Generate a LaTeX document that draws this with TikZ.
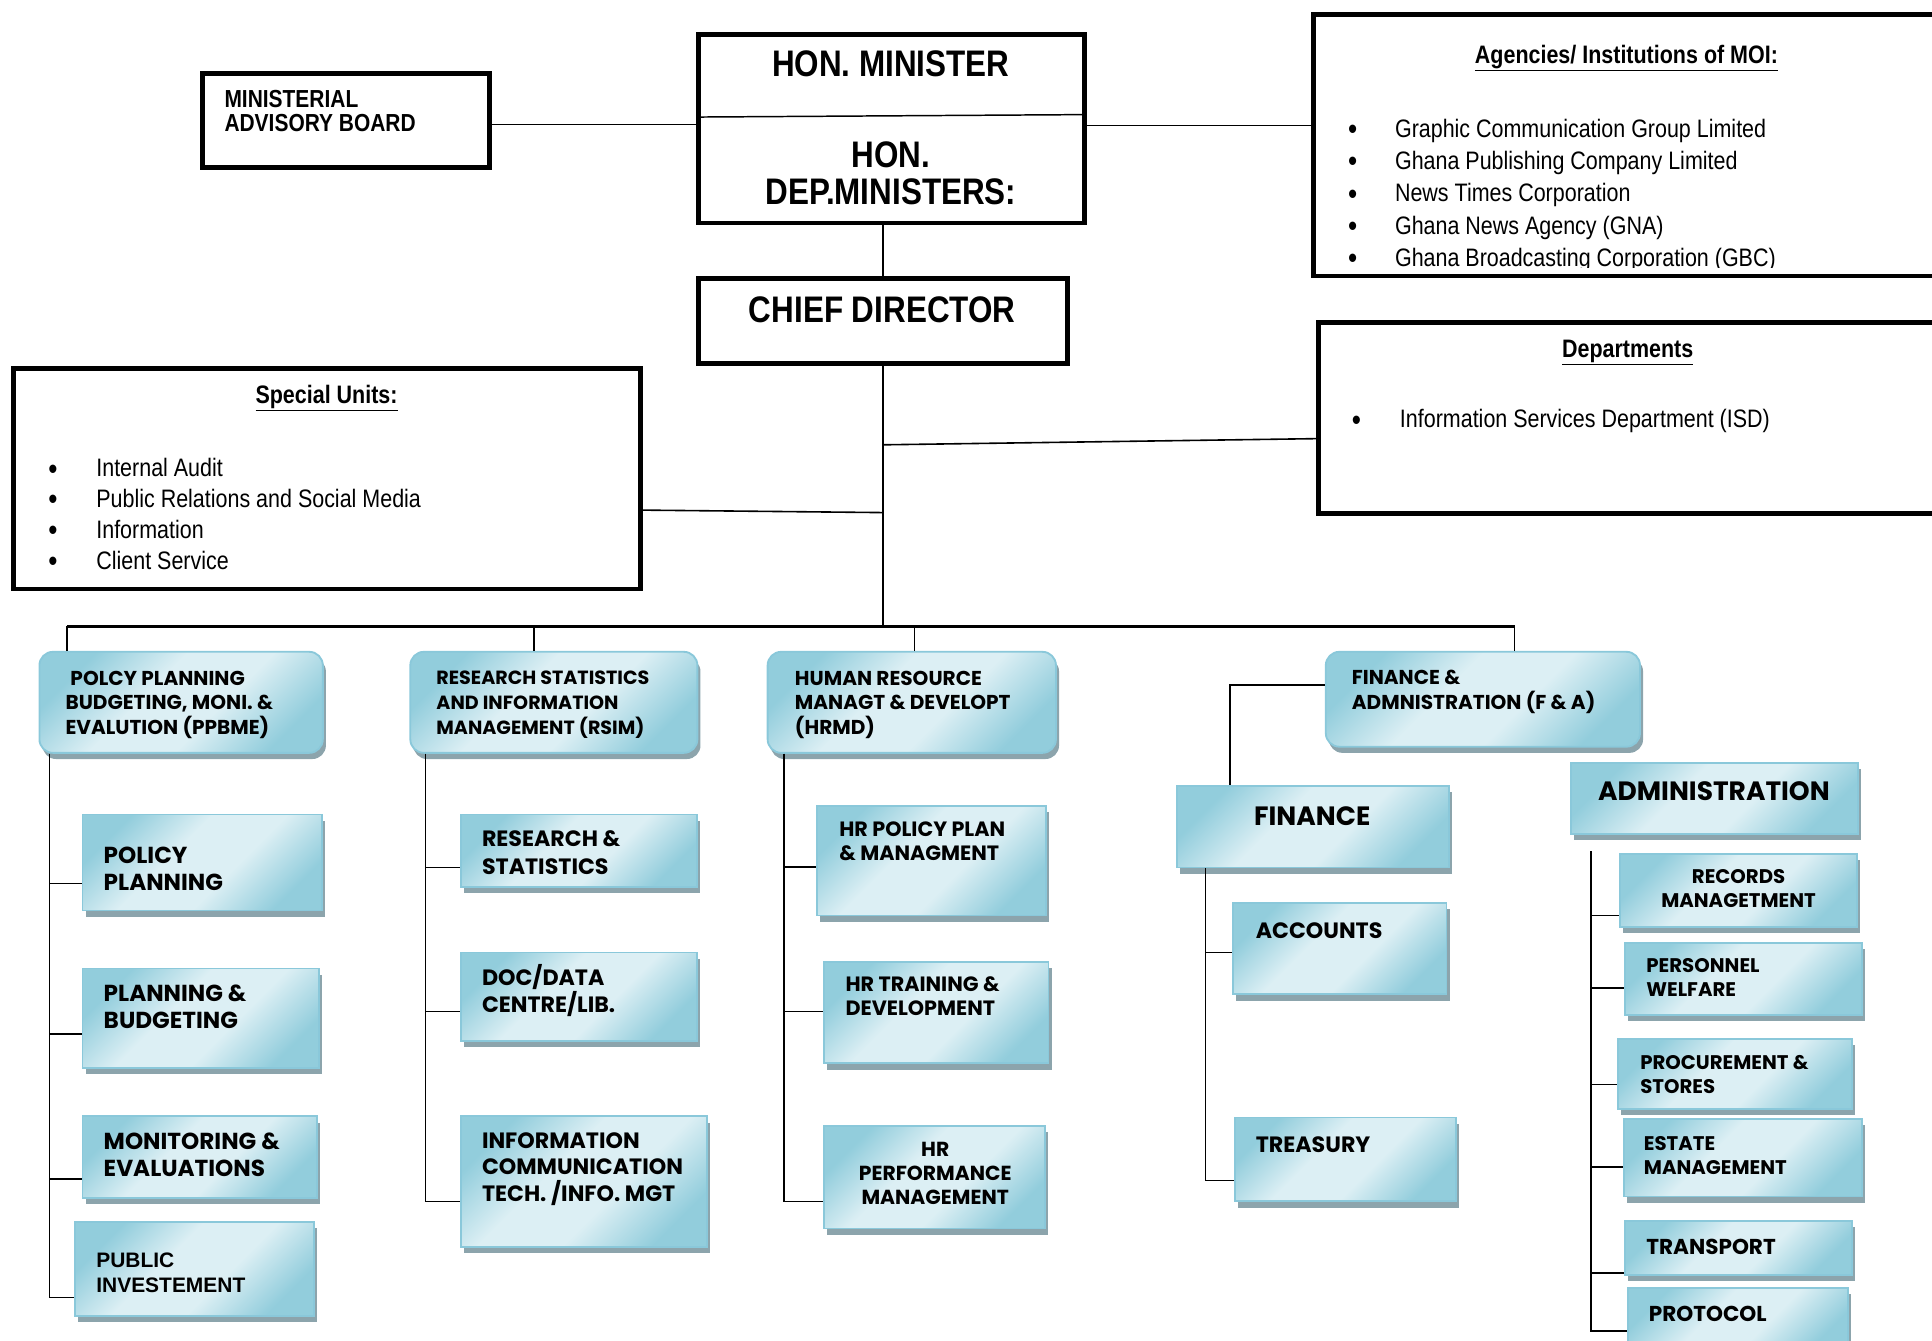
\documentclass[tikz,border=0pt]{standalone}
\usepackage{fontspec}
\setmainfont{Liberation Sans}
\newfontfamily\narrowfont{Liberation Sans}[FakeStretch=0.85]
\newfontfamily\unitfont{Poppins}
\usetikzlibrary{fit, positioning, shadings, shadows}

\definecolor{boxdark}{RGB}{146,205,220}
\definecolor{boxlight}{RGB}{220,239,244}
\definecolor{boxedge}{RGB}{138,200,218}
\definecolor{shadowgray}{RGB}{140,164,172}
\pgfdeclareverticalshading{unitshade}{100bp}{color(0bp)=(boxdark); color(25bp)=(boxdark); color(42bp)=(boxlight); color(58bp)=(boxlight); color(75bp)=(boxdark); color(100bp)=(boxdark)}
\newcommand{\itemdot}[1]{\makebox[#1][l]{\smash{\raisebox{-2pt}{\fontsize{25}{25}\selectfont\textbullet}}}}

\tikzstyle{boss}=[draw, line width=4, inner sep=0]
\tikzstyle{unit}=[draw=boxedge, line width=1.5, inner sep=0, shading=unitshade, shading angle=45, drop shadow={shadow xshift=2.5, shadow yshift=5, fill=shadowgray, opacity=1}]
\tikzstyle{head}=[unit, rounded corners=11]
\tikzstyle{link}=[line width=1.3]
\tikzstyle{bus}=[line width=2.6]
\tikzstyle{bosstext}=[inner sep=0, align=center, font=\narrowfont\bfseries\fontsize{30}{30}\selectfont]
\tikzstyle{listtitle}=[inner sep=0, font=\narrowfont\bfseries\fontsize{20.5}{25}\selectfont]
\tikzstyle{listtext}=[inner sep=0, anchor=west, align=left, font=\narrowfont\fontsize{20.5}{25}\selectfont]
\tikzstyle{headtext}=[inner sep=0, anchor=west, align=left, font=\unitfont\bfseries\fontsize{16.3}{20}\selectfont]
\tikzstyle{kidtext}=[headtext, font=\unitfont\bfseries\fontsize{18.8}{22}\selectfont]
\tikzstyle{hrtext}=[headtext, font=\unitfont\bfseries\fontsize{16.8}{19.5}\selectfont]
\tikzstyle{admintext}=[headtext, font=\unitfont\bfseries\fontsize{16}{19.5}\selectfont]
\tikzstyle{bigtext}=[inner sep=0, font=\unitfont\bfseries\fontsize{21.5}{24}\selectfont]

\begin{document}
\begin{tikzpicture}[x=1pt, y=-1pt]
  \useasboundingbox (0,0) rectangle (1568,1088);
  \clip (0,0) rectangle (1568,1088);

  % minister, board and chief director
  \node[boss, fit={(164,60) (397,136)}] (advisory) {};
  \node[bosstext, anchor=west, align=left, font=\narrowfont\bfseries\fontsize{20}{20}\selectfont] (advisorytext) at (182,90) {MINISTERIAL\\ADVISORY BOARD};
  \node[boss, fit={(567,28) (880,181)}] (minister) {};
  \node[bosstext] (ministertext) at (723,52) {HON. MINISTER};
  \node[bosstext] (deputytext) at (723,141) {HON.\\DEP.MINISTERS:};
  \draw[line width=1.2] ([yshift=9.5]minister.west) -- ([yshift=11.5]minister.east);
  \node[boss, fit={(567,226) (866,295)}] (chief) {};
  \node[bosstext] (chieftext) at (716,251) {CHIEF DIRECTOR};

  % agencies, departments, special units
  \node[boss, fit={(1066,12) (1620,224)}] (agencies) {};
  \node[listtitle] (agenciestitle) at (1320,47) {\underline{Agencies/ Institutions of MOI:}};
  \begin{scope}
    \clip (1068,14) rectangle (1600,217);
    \node[listtext, font=\narrowfont\fontsize{20.5}{26.25}\selectfont] (agencylist) at (1094,158.5)
      {\itemdot{38pt}Graphic Communication Group Limited\\
       \itemdot{38pt}Ghana Publishing Company Limited\\
       \itemdot{38pt}News Times Corporation\\
       \itemdot{38pt}Ghana News Agency (GNA)\\
       \itemdot{38pt}Ghana Broadcasting Corporation (GBC)};
  \end{scope}
  \node[boss, fit={(1070,262) (1620,417)}] (depts) {};
  \node[listtitle] (deptstitle) at (1321,286) {\underline{Departments}};
  \node[listtext] (deptlist) at (1097,342) {\itemdot{39pt}Information Services Department (ISD)};
  \node[boss, fit={(11,299) (520,478)}] (special) {};
  \node[listtitle] (specialtitle) at (265,323) {\underline{Special Units:}};
  \node[listtext] (speciallist) at (39,417)
    {\itemdot{39pt}Internal Audit\\
     \itemdot{39pt}Public Relations and Social Media\\
     \itemdot{39pt}Information\\
     \itemdot{39pt}Client Service};

  \draw[link] ([yshift=-3]advisory.east) -- ([yshift=-3]advisory.east -| minister.west);
  \draw[link] ([yshift=2.5]minister.east) -- ([yshift=2.5]minister.east -| agencies.west);
  \draw[link] (chief.north |- minister.south) -- (chief.north);
  \draw[link] ([yshift=-16.5]depts.west) -- ([yshift=-21.5]depts.west -| chief.south);
  \draw[link] ([yshift=-25.5]special.east) -- ([yshift=-27.5]special.east -| chief.south);

  % directorates
  \node[head, fit={(32,529) (262,611)}] (ppbme) {};
  \node[headtext] (ppbmetext) at (53,572) {\hspace*{4pt}POLCY PLANNING\\BUDGETING, MONI. \&\\EVALUTION (PPBME)};
  \node[head, fit={(333,529) (566,611)}] (rsim) {};
  \node[headtext, font=\unitfont\bfseries\fontsize{15.5}{20}\selectfont] (rsimtext) at (354,572) {RESEARCH STATISTICS\\AND INFORMATION\\MANAGEMENT (RSIM)};
  \node[head, fit={(623,529) (857,611)}] (hrmd) {};
  \node[headtext] (hrmdtext) at (645,572) {HUMAN RESOURCE\\MANAGT \& DEVELOPT\\(HRMD)};
  \node[head, fit={(1076,529) (1331,606)}] (fa) {};
  \node[headtext] (fatext) at (1097,561.5) {FINANCE \&\\ADMNISTRATION (F \& A)};

  \foreach \unitname/\dx [count=\i] in {ppbme/23, rsim/101, hrmd/120, fa/154}
    \draw[link] ([xshift=\dx]\unitname.north west) -- ++(0,-20) coordinate (drop\i);
  \draw[bus] (drop1) -- (drop4);
  \draw[link] (chief.south) -- (chief.south |- drop1);

  % PPBME units
  \node[unit, fit={(67,661) (261,739)}] (polplan) {};
  \node[kidtext] (polplantext) at (84,705) {POLICY\\PLANNING};
  \node[unit, fit={(67,786) (259,867)}] (planbud) {};
  \node[kidtext] (planbudtext) at (84,817) {PLANNING \&\\BUDGETING};
  \node[unit, fit={(67,906) (257,972)}] (moneval) {};
  \node[kidtext] (monevaltext) at (84,937) {MONITORING \&\\EVALUATIONS};
  \node[unit, fit={(61,992) (255,1068)}] (pubinv) {};
  \node[headtext, font=\bfseries\fontsize{17}{20}\selectfont] (pubinvtext) at (78,1033) {PUBLIC\\INVESTEMENT};
  \foreach \kid/\dy in {polplan/-17, planbud/-12.5, moneval/-18, pubinv/-23}
    \draw[link] ([xshift=9]ppbme.south west) |- ([yshift=\dy]\kid.west);

  % RSIM units
  \node[unit, fit={(374,661) (566,720)}] (resstat) {};
  \node[kidtext, font=\unitfont\bfseries\fontsize{18}{22}\selectfont] (resstattext) at (391,692) {RESEARCH \&\\STATISTICS};
  \node[unit, fit={(374,773) (566,845)}] (docdata) {};
  \node[kidtext, font=\unitfont\bfseries\fontsize{18}{22}\selectfont] (docdatatext) at (391,804) {DOC/DATA\\CENTRE/LIB.};
  \node[unit, fit={(374,906) (574,1012)}] (ictmgt) {};
  \node[kidtext, font=\unitfont\bfseries\fontsize{18}{21.5}\selectfont] (ictmgttext) at (391,948.5) {INFORMATION\\COMMUNICATION\\TECH. /INFO. MGT};
  \foreach \kid/\dy in {resstat/-13.5, docdata/-12, ictmgt/-16}
    \draw[link] ([xshift=13]rsim.south west) |- ([yshift=\dy]\kid.west);

  % HRMD units
  \node[unit, fit={(663,654) (849,743)}] (hrpol) {};
  \node[hrtext] (hrpoltext) at (681,683) {HR POLICY PLAN\\\& MANAGMENT};
  \node[unit, fit={(669,781) (851,863)}] (hrtrain) {};
  \node[hrtext] (hrtraintext) at (686,808.5) {HR TRAINING \&\\DEVELOPMENT};
  \node[unit, fit={(669,914) (848,997)}] (hrperf) {};
  \node[hrtext, anchor=center, align=center, font=\unitfont\bfseries\fontsize{16.5}{19.5}\selectfont] (hrperftext) at (759,952) {HR\\PERFORMANCE\\MANAGEMENT};
  \foreach \kid/\dy in {hrpol/-5, hrtrain/1, hrperf/-19.5}
    \draw[link] ([xshift=14]hrmd.south west) |- ([yshift=\dy]\kid.west);

  % finance
  \node[unit, fit={(955,638) (1176,704)}] (finance) {};
  \node[bigtext] (financetext) at (1065,662) {FINANCE};
  \draw[link] ([yshift=11.5]fa.west) -| ([xshift=44]finance.north west);
  \node[unit, fit={(1001,733) (1174,807)}] (accounts) {};
  \node[kidtext, font=\unitfont\bfseries\fontsize{18}{22}\selectfont] (accountstext) at (1019,755) {ACCOUNTS};
  \node[unit, fit={(1002,907) (1182,975)}] (treasury) {};
  \node[kidtext, font=\unitfont\bfseries\fontsize{18}{22}\selectfont] (treasurytext) at (1019,929) {TREASURY};
  \foreach \kid/\dy in {accounts/-3, treasury/-17}
    \draw[link] ([xshift=24]finance.south west) |- ([yshift=\dy]\kid.west);

  % administration
  \node[unit, fit={(1275,619) (1508,677)}] (admin) {};
  \node[bigtext] (admintext) at (1391,642) {ADMINISTRATION};
  \node[unit, fit={(1315,693) (1507,752)}] (records) {};
  \node[admintext, anchor=center, align=center] (recordstext) at (1411,721.5) {RECORDS\\MANAGETMENT};
  \node[unit, fit={(1319,765) (1511,824)}] (personnel) {};
  \node[admintext] (personneltext) at (1336,793.5) {PERSONNEL\\WELFARE};
  \node[unit, fit={(1313,843) (1503,900)}] (procure) {};
  \node[admintext] (procuretext) at (1331,872) {PROCUREMENT \&\\STORES};
  \node[unit, fit={(1318,908) (1511,971)}] (estate) {};
  \node[admintext] (estatetext) at (1334,937.5) {ESTATE\\MANAGEMENT};
  \node[unit, fit={(1319,991) (1503,1035)}] (transport) {};
  \node[kidtext, font=\unitfont\bfseries\fontsize{17.5}{20}\selectfont] (transporttext) at (1336,1012) {TRANSPORT};
  \node[unit, fit={(1321,1045) (1500,1098)}] (protocol) {};
  \node[kidtext, font=\unitfont\bfseries\fontsize{17.5}{20}\selectfont] (protocoltext) at (1338,1066) {PROTOCOL};
  \foreach \kid/\dy in {records/-20.5, personnel/-7.5, procure/-8.5, estate/-7.5, transport/-20, protocol/-8.5}
    \draw[link] ([xshift=17,yshift=-13]admin.south west) |- ([yshift=\dy]\kid.west);
\end{tikzpicture}
\end{document}
